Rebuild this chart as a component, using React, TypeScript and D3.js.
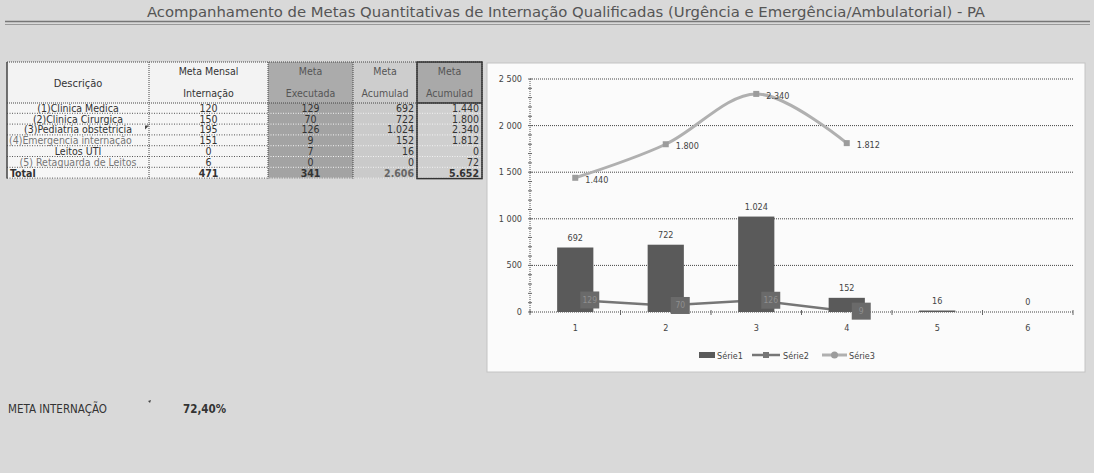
import React from 'react';
import * as d3 from 'd3';

// ---------- data ----------
const categories = ['1', '2', '3', '4', '5', '6'];
const serie1 = [692, 722, 1024, 152, 16, 0];
const serie2 = [129, 70, 126, 9];
const serie3 = [1440, 1800, 2340, 1812];
const yTicks = [0, 500, 1000, 1500, 2000, 2500];
const legendLabels = ['Série1', 'Série2', 'Série3'];

const descricao = [
  '(1)Clinica Medica',
  '(2)Clinica Cirurgica',
  '(3)Pediatria obstetricia',
  '(4)Emergencia internação',
  'Leitos UTI',
  '(5) Retaguarda de Leitos',
  'Total',
];
const metaMensal = [120, 150, 195, 151, 0, 6, 471];
const metaExecutada = [129, 70, 126, 9, 7, 0, 341];
const metaAcumulada = [692, 722, 1024, 152, 16, 0, 2606];
const metaAcumulada2 = [1440, 1800, 2340, 1812, 0, 72, 5652];
const headers = [
  ['Descrição'],
  ['Meta Mensal', 'Internação'],
  ['Meta', 'Executada'],
  ['Meta', 'Acumulad'],
  ['Meta', 'Acumulad'],
];
const titleText =
  'Acompanhamento de Metas Quantitativas de Internação Qualificadas (Urgência e Emergência/Ambulatorial) - PA';
const metaLabel = 'META INTERNAÇÃO';
const metaValue = '72,40%';

// ---------- formats ----------
const br = d3.formatLocale({ decimal: ',', thousands: '.', grouping: [3], currency: ['', ''] });
const fmtDot = br.format(',d');
const sp = d3.formatLocale({ decimal: ',', thousands: ' ', grouping: [3], currency: ['', ''] });
const fmtSpace = sp.format(',d');

const W = 1094;
const H = 473;
const chartFont = "'DejaVu Sans Condensed', 'DejaVu Sans', sans-serif";
const tableFont = "'Liberation Sans Narrow', 'DejaVu Sans Condensed', sans-serif";

export default function App() {
  // chart scales
  const x = d3.scaleBand<string>().domain(categories).range([530, 1073]).paddingInner(0.6).paddingOuter(0.3);
  const y = d3.scaleLinear().domain([0, 2500]).range([312, 79]);
  const cx = (i: number) => (x(categories[i]) as number) + x.bandwidth() / 2;
  const step = x.step();
  const x0 = 530;
  const x1 = 1073;

  const line2 = d3
    .line<number>()
    .x((_, i) => cx(i))
    .y((d) => y(d));
  const line3 = d3
    .line<number>()
    .x((_, i) => cx(i))
    .y((d) => y(d))
    .curve(d3.curveCatmullRom.alpha(0));

  const minorTicks = d3.range(0, 2501, 100);

  // table layout
  const cols = [7, 149, 268, 353, 417, 482];
  const hy0 = 62;
  const hy1 = 103;
  const rh = 10.8;
  const nRows = descricao.length;
  const tBottom = hy1 + rh * nRows;
  const headFill = ['#f3f3f3', '#f3f3f3', '#ababab', '#cdcdcd', '#a9a9a9'];
  const bodyFill = ['#f6f6f6', '#f6f6f6', '#a3a3a3', '#cacaca', '#cfcfcf'];
  const dotOnDark = [false, false, true, true, true];
  const columnsData = [descricao, metaMensal, metaExecutada, metaAcumulada, metaAcumulada2];

  const cellText = (c: number, r: number) => {
    const v = columnsData[c][r];
    if (c === 0) return v as string;
    return fmtDot(v as number);
  };

  return (
    <svg width={W} height={H} style={{ position: 'absolute', left: 0, top: 0 }} xmlns="http://www.w3.org/2000/svg">
      <defs>
        <clipPath id="col0clip">
          <rect x={cols[0]} y={hy1} width={cols[1] - cols[0]} height={rh * nRows} />
        </clipPath>
      </defs>
      <rect x={0} y={0} width={W} height={H} fill="#d9d9d9" />

      {/* title */}
      <text
        x={566}
        y={17}
        textAnchor="middle"
        fontFamily={chartFont}
        fontSize={14}
        fill="#555"
        textLength={838}
        lengthAdjust="spacingAndGlyphs"
      >
        {titleText}
      </text>
      <line x1={5} x2={1090} y1={21.5} y2={21.5} stroke="#777" strokeWidth={1.5} />
      <line x1={5} x2={1090} y1={24.5} y2={24.5} stroke="#9a9a9a" strokeWidth={1} />

      {/* ---------- table ---------- */}
      <g fontFamily={tableFont}>
        {headers.map((h, c) => (
          <g key={'h' + c}>
            <rect x={cols[c]} y={hy0} width={cols[c + 1] - cols[c]} height={hy1 - hy0} fill={headFill[c]} />
            <rect x={cols[c]} y={hy1} width={cols[c + 1] - cols[c]} height={rh * nRows} fill={bodyFill[c]} />
            {h.length === 1 ? (
              <text x={(cols[c] + cols[c + 1]) / 2} y={87} textAnchor="middle" fontSize={11} fill="#333">
                {h[0]}
              </text>
            ) : (
              h.map((t, k) => (
                <text
                  key={k}
                  x={(cols[c] + cols[c + 1]) / 2}
                  y={k === 0 ? 75 : 97}
                  textAnchor="middle"
                  fontSize={10.5}
                  fill={c >= 2 ? '#555' : '#333'}
                >
                  {t}
                </text>
              ))
            )}
          </g>
        ))}
        {/* horizontal dotted lines */}
        {d3.range(nRows).map((r) =>
          cols.slice(0, 5).map((cx0, c) => (
            <line
              key={'hl' + r + '-' + c}
              x1={cx0}
              x2={cols[c + 1]}
              y1={hy1 + rh * (r + 1) - 0.5}
              y2={hy1 + rh * (r + 1) - 0.5}
              stroke={dotOnDark[c] ? '#f2f2f2' : '#555'}
              strokeWidth={1}
              strokeDasharray="1,1.5"
            />
          ))
        )}
        <line x1={cols[0]} x2={cols[5]} y1={hy1} y2={hy1} stroke="#444" strokeWidth={1} strokeDasharray="1,1" />
        <line x1={cols[0]} x2={cols[5]} y1={hy0} y2={hy0} stroke="#444" strokeWidth={1} strokeDasharray="1,1" />
        {/* vertical lines */}
        {cols.map((vx, i) => (
          <line
            key={'vl' + i}
            x1={vx}
            x2={vx}
            y1={hy0}
            y2={tBottom}
            stroke="#444"
            strokeWidth={i === 0 ? 1.5 : 1}
            strokeDasharray={i === 0 ? undefined : '1,1'}
          />
        ))}
        <rect
          x={cols[4]}
          y={hy0}
          width={cols[5] - cols[4]}
          height={tBottom - hy0}
          fill="none"
          stroke="#333"
          strokeWidth={1.5}
        />
        <line x1={cols[4]} x2={cols[5]} y1={hy1} y2={hy1} stroke="#333" strokeWidth={1.5} />
        {/* body text */}
        {d3.range(nRows).map((r) =>
          columnsData.map((_, c) => {
            const isTotal = r === nRows - 1;
            const ty = hy1 + rh * r + rh - 2;
            let tx = (cols[c] + cols[c + 1]) / 2;
            let anchor: 'middle' | 'end' | 'start' = 'middle';
            if (c >= 3) {
              tx = cols[c + 1] - 3;
              anchor = 'end';
            }
            if (c === 0 && isTotal) {
              tx = cols[0] + 3;
              anchor = 'start';
            }
            if (c === 0 && r === 3) {
              tx = cols[0] + 2;
              anchor = 'start';
            }
            const light = c === 0 && (r === 3 || r === 5);
            return (
              <text
                key={'t' + r + '-' + c}
                x={tx}
                y={ty}
                textAnchor={anchor}
                fontSize={10.5}
                fontWeight={isTotal ? 'bold' : 'normal'}
                fill={light ? '#777' : c === 3 && isTotal ? '#666' : '#333'}
                clipPath={c === 0 ? 'url(#col0clip)' : undefined}
              >
                {cellText(c, r)}
              </text>
            );
          })
        )}
        <path d={`M${cols[1] - 4},${hy1 + rh * 2 + 1} l4,0 l-4,4 z`} fill="#444" />
      </g>

      {/* meta internação */}
      <text x={8} y={413} fontFamily={tableFont} fontSize={11.5} fill="#333">
        {metaLabel}
      </text>
      <text x={183} y={413} fontFamily={tableFont} fontSize={11.5} fontWeight="bold" fill="#333">
        {metaValue}
      </text>
      <path d="M148,401 l3,-1 l-1,3 z" fill="#444" />

      {/* ---------- chart ---------- */}
      <rect x={487} y={63} width={598} height={309} fill="#fbfbfb" stroke="#c4c4c4" />
      <g fontFamily={chartFont} fontSize={9} fill="#444">
        {/* gridlines */}
        {yTicks
          .filter((t) => t > 0)
          .map((t) => (
            <line
              key={'g' + t}
              x1={x0}
              x2={x1}
              y1={y(t)}
              y2={y(t)}
              stroke="#444"
              strokeWidth={1}
              strokeDasharray="1,1"
            />
          ))}
        {/* y axis */}
        <line x1={x0} x2={x0} y1={y(2500)} y2={y(0)} stroke="#555" strokeDasharray="1,1" />
        {minorTicks.map((t) => (
          <line key={'mt' + t} x1={x0 - 2} x2={x0 + 2} y1={y(t)} y2={y(t)} stroke="#666" />
        ))}
        {yTicks.map((t) => (
          <text key={'yl' + t} x={x0 - 8} y={y(t) + 3} textAnchor="end" fill="#444">
            {fmtSpace(t)}
          </text>
        ))}
        {/* x axis */}
        <line x1={x0} x2={x1} y1={y(0)} y2={y(0)} stroke="#444" strokeDasharray="1,1" />
        {d3.range(categories.length + 1).map((i) => (
          <line
            key={'xt' + i}
            x1={x0 + i * step}
            x2={x0 + i * step}
            y1={y(0) - 2}
            y2={y(0) + 3}
            stroke="#666"
          />
        ))}
        {categories.map((c, i) => (
          <text key={'xl' + c} x={cx(i)} y={y(0) + 19} textAnchor="middle" fill="#444">
            {c}
          </text>
        ))}

        {/* serie2 line (behind bars) */}
        <path d={line2(serie2) || ''} fill="none" stroke="#767676" strokeWidth={2.5} />

        {/* serie1 bars */}
        {serie1.map((v, i) => (
          <rect
            key={'b' + i}
            x={x(categories[i]) as number}
            y={y(v)}
            width={x.bandwidth()}
            height={Math.max(0, y(0) - y(v))}
            fill="#5a5a5a"
          />
        ))}
        {serie1.map((v, i) => (
          <text key={'bl' + i} x={cx(i)} y={y(v) - 7} textAnchor="middle" fill="#444">
            {fmtDot(v)}
          </text>
        ))}

        {/* serie2 labels with boxes */}
        {serie2.map((v, i) => (
          <g key={'s2' + i}>
            <rect x={cx(i) + 5} y={y(v) - 8.5} width={19} height={17} fill="#6a6a6a" />
            <text x={cx(i) + 14.5} y={y(v) + 3} textAnchor="middle" fill="#8f8f8f" fontSize={8.5}>
              {fmtDot(v)}
            </text>
          </g>
        ))}

        {/* serie3 smooth line */}
        <path d={line3(serie3) || ''} fill="none" stroke="#b0b0b0" strokeWidth={3} />
        {serie3.map((v, i) => (
          <rect key={'m3' + i} x={cx(i) - 3} y={y(v) - 3} width={6} height={6} fill="#9c9c9c" />
        ))}
        {serie3.map((v, i) => (
          <text key={'l3' + i} x={cx(i) + 10} y={y(v) + 5} fill="#444">
            {fmtDot(v)}
          </text>
        ))}

        {/* legend */}
        <rect x={699} y={352} width={16} height={6} fill="#5a5a5a" />
        <text x={717} y={358.5} fill="#444">
          {legendLabels[0]}
        </text>
        <line x1={752} x2={780} y1={355} y2={355} stroke="#767676" strokeWidth={2.5} />
        <rect x={763} y={352} width={6} height={6} fill="#767676" />
        <text x={783} y={358.5} fill="#444">
          {legendLabels[1]}
        </text>
        <line x1={822} x2={847} y1={355} y2={355} stroke="#b0b0b0" strokeWidth={3} />
        <circle cx={834.5} cy={355} r={3.5} fill="#9c9c9c" />
        <text x={849} y={358.5} fill="#444">
          {legendLabels[2]}
        </text>
      </g>
    </svg>
  );
}
